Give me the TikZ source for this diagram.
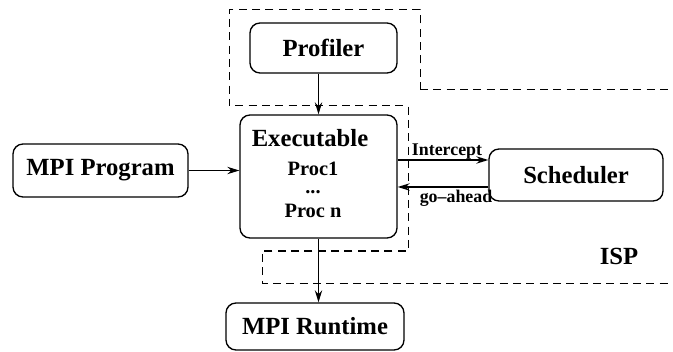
\documentclass[tikz,border=0pt]{standalone}
\usepackage{fontspec}
\setmainfont{Liberation Serif}
\usetikzlibrary{arrows.meta}

\tikzset{every picture/.style={line width=0.75pt}}
\tikzset{
  blk/.style={draw, line width=1pt, rounded corners=7.5pt, inner sep=0pt, align=center,
    font=\fontsize{18.5}{22}\selectfont\bfseries},
  flow/.style={line width=1pt, -{Stealth[length=9pt,width=5.5pt]}},
  isp/.style={line width=0.75pt, dash pattern={on 6pt off 4pt}},
  msg/.style={inner sep=0pt, anchor=base, font=\fontsize{13.4}{15}\selectfont\bfseries},
  proc/.style={inner sep=0pt, align=center, font=\fontsize{15.3}{17}\selectfont\bfseries}
}

\begin{document}
\begin{tikzpicture}[x=0.75pt,y=0.75pt,yscale=-1,xscale=1]
\useasboundingbox (0,0) rectangle (673,352);

%Shape: dashed ISP outline
\draw [isp] (420,90) -- (420,10) -- (229,10) -- (229,106) -- (408,106) -- (408,251) -- (262,251) -- (262,283) -- (673,283) ;
\draw [isp] (420,90) -- (673,90) ;

%Boxes
\node [blk, minimum width=110.25pt, minimum height=37.5pt] (prof) at (323.5,48) {Profiler};
\node [blk, minimum width=117.75pt, minimum height=92.25pt] (exec) at (318.5,176.5) {};
\node [blk, minimum width=130.5pt, minimum height=39pt] (sched) at (576,175) {Scheduler};
\node [blk, minimum width=131.25pt, minimum height=39.75pt] (prog) at (100.5,170.5) {MPI Program};
\node [blk, minimum width=133.5pt, minimum height=35.25pt] (rt) at (315,326.5) {MPI Runtime};

%Text inside executable
\node [inner sep=0pt, anchor=base, font=\fontsize{18.5}{22}\selectfont\bfseries] (exetitle) at (310,147) {Executable};
\node [proc, anchor=north] (procs) at (313,162) {Proc1\\[-3.5pt]...\\[1pt]Proc n};

%Labels
\node [msg] (icpt) at (447,156) {Intercept};
\node [msg] (goah) at (456,203) {go--ahead};
\node [inner sep=0pt, anchor=base, font=\fontsize{18.5}{22}\selectfont\bfseries] (isplbl) at (619,264) {ISP};

%Arrows
\draw [flow] (exec.north |- prof.south) -- (exec.north) ;
\draw [flow] (prog.east) -- (prog.east -| exec.west) ;
\draw [flow] ([yshift=-11.25pt]exec.east |- sched.west) -- ([yshift=-11.25pt]sched.west) ;
\draw [flow] ([yshift=9pt]sched.west) -- ([yshift=9pt]exec.east |- sched.west) ;
\draw [flow] (exec.south) -- (exec.south |- rt.north) ;

\end{tikzpicture}
\end{document}
